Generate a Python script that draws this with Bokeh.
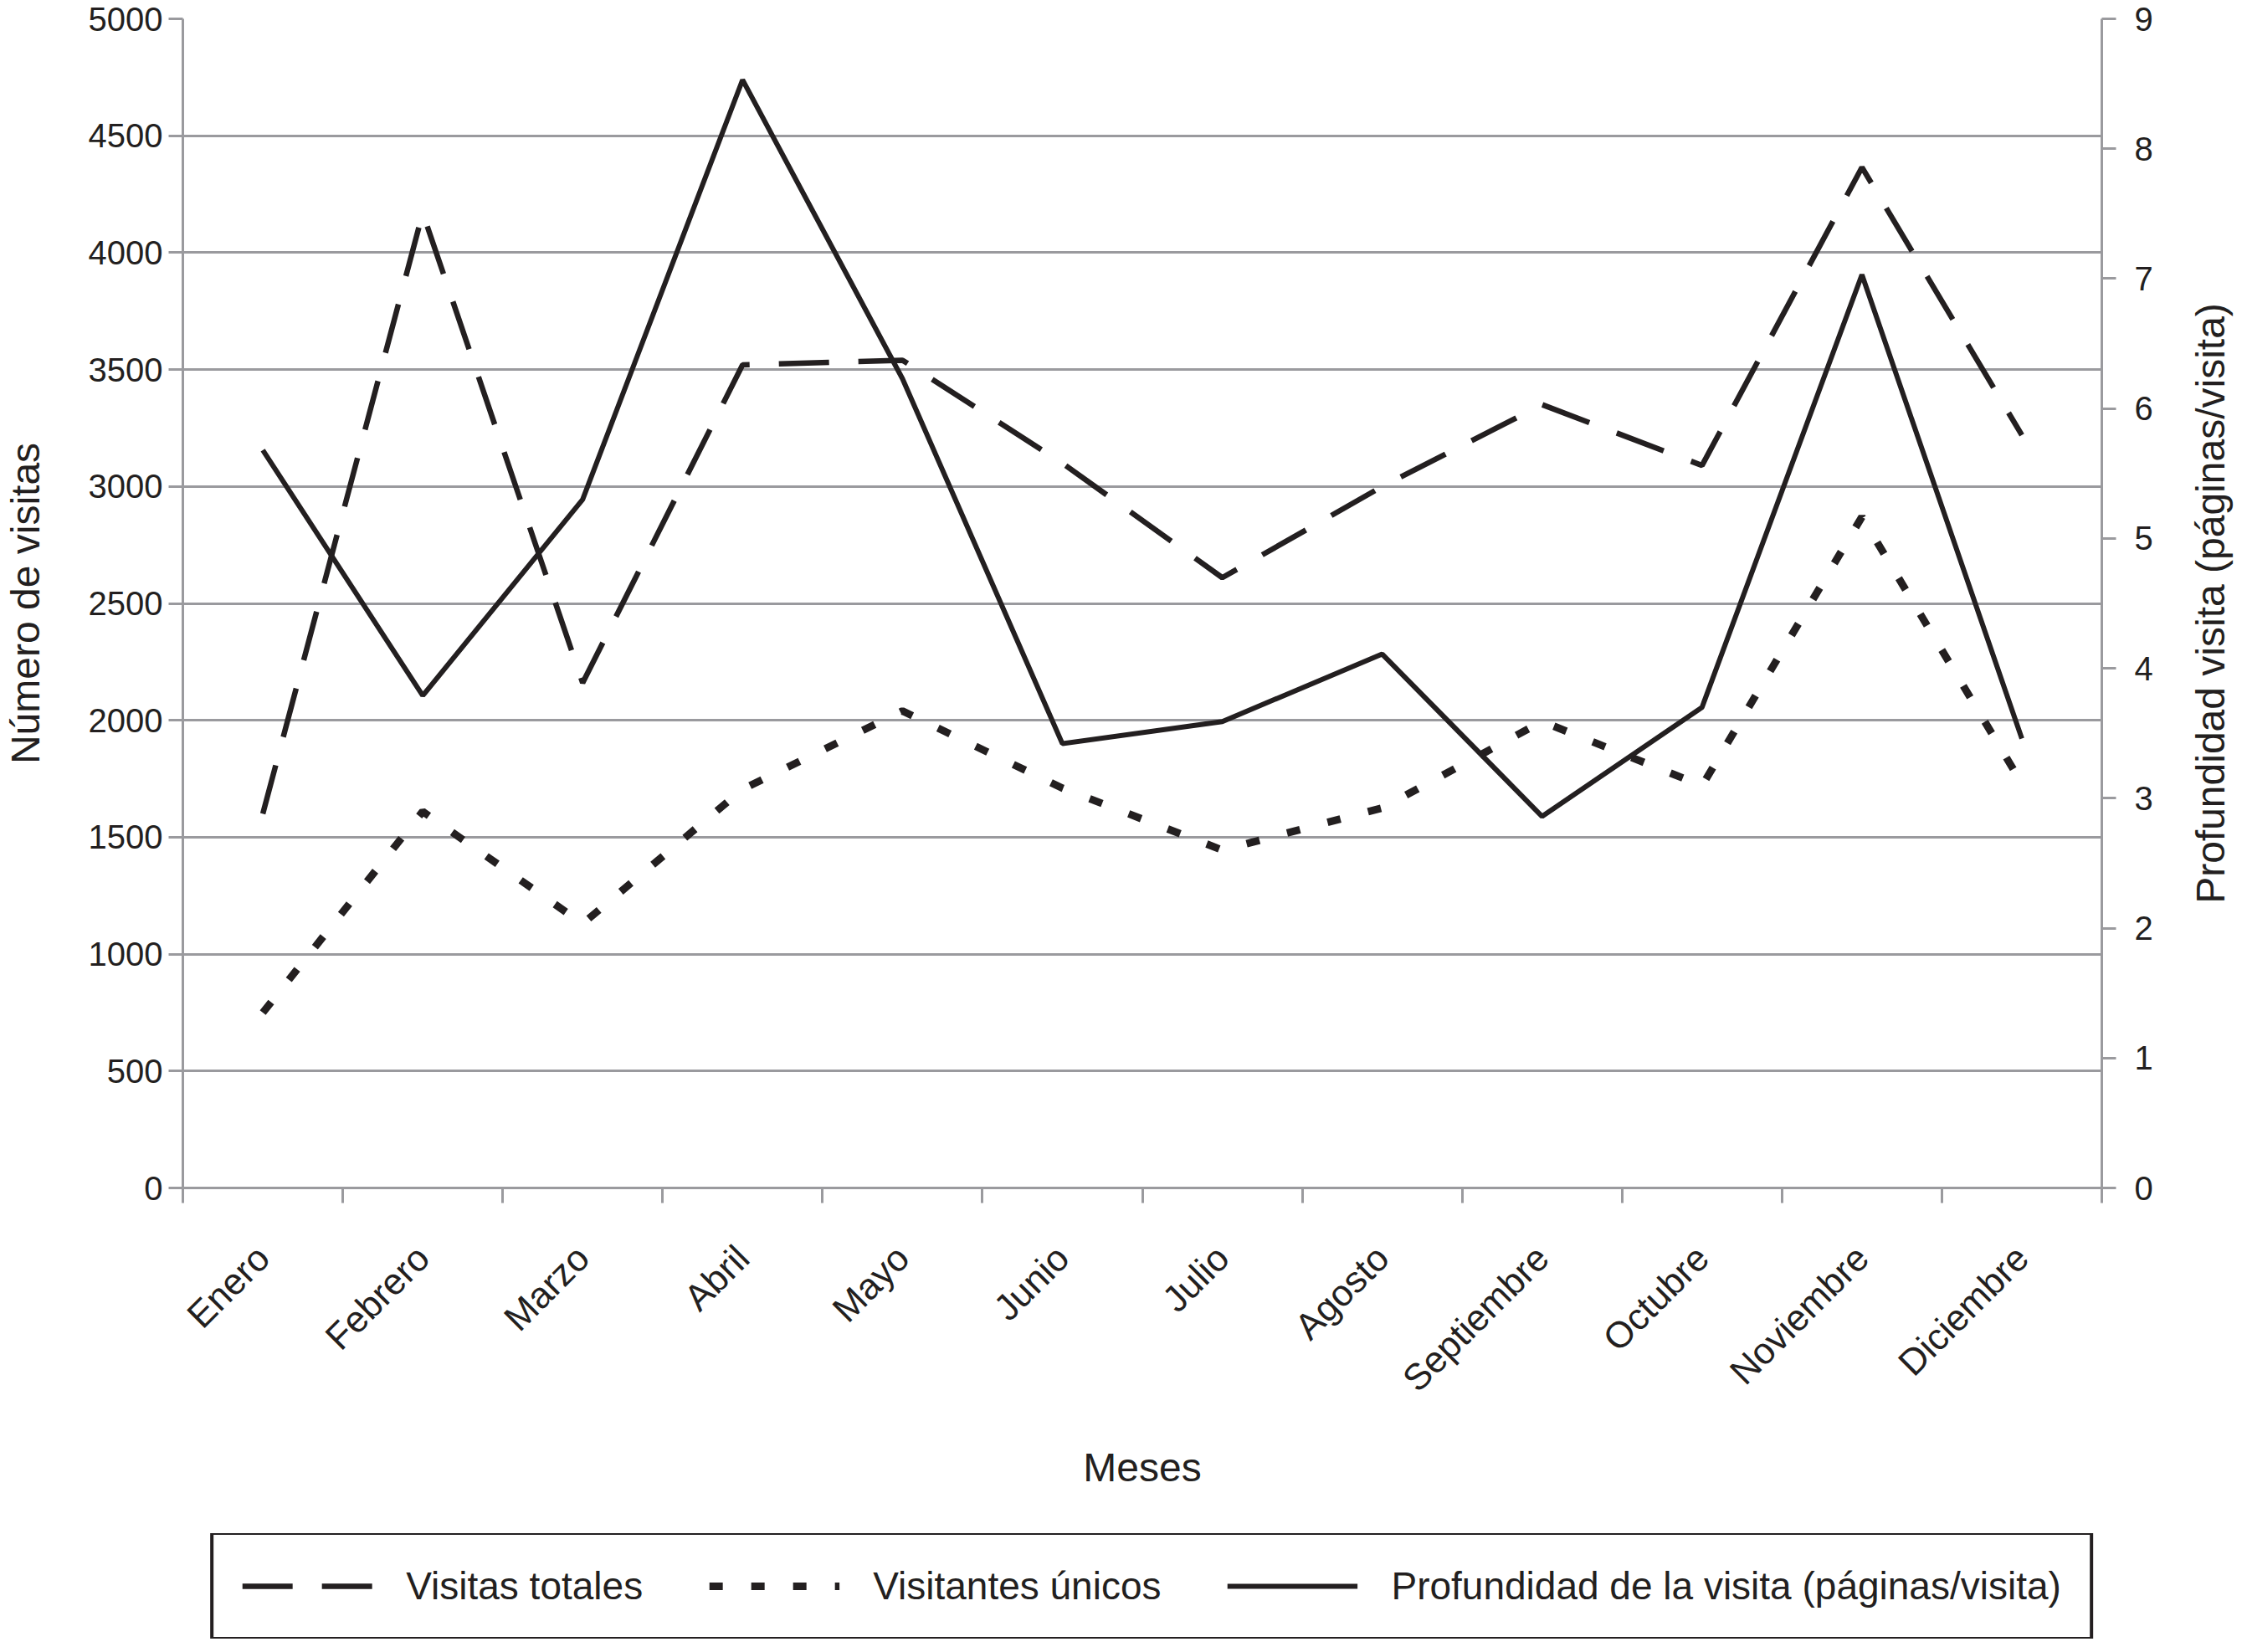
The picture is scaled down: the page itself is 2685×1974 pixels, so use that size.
import math
from bokeh.plotting import figure
from bokeh.layouts import column, row
from bokeh.models import (Range1d, LinearAxis, FixedTicker, Legend, LegendItem, Label)
from bokeh.embed import file_html
from bokeh.resources import INLINE

meses = ["Enero", "Febrero", "Marzo", "Abril", "Mayo", "Junio", "Julio",
         "Agosto", "Septiembre", "Octubre", "Noviembre", "Diciembre"]
visitas_totales = [1600, 4170, 2160, 3520, 3540, 3100, 2610, 3000, 3350, 3090, 4365, 3220]
visitantes_unicos = [750, 1610, 1130, 1705, 2040, 1710, 1445, 1625, 1995, 1720, 2870, 1730]
profundidad = [5.68, 3.79, 5.30, 8.53, 6.23, 3.42, 3.59, 4.11, 2.86, 3.70, 7.03, 3.46]
ticks_izq = [0, 500, 1000, 1500, 2000, 2500, 3000, 3500, 4000, 4500, 5000]
ticks_der = [0, 1, 2, 3, 4, 5, 6, 7, 8, 9]

FONT = "Liberation Sans"
INK = "#231f20"
GREY = "#9a9a9e"

n = len(meses)
xc = [i + 0.5 for i in range(n)]
bounds = list(range(n + 1))

# main figure geometry
W, H = 2609, 1832
ML, MR, MT, MB = 212, 98, 22, 413
TW = 60          # strip for right axis title
LH = 126         # legend strip height

p = figure(width=W, height=H, output_backend="svg", toolbar_location=None,
           x_range=Range1d(0, n), y_range=Range1d(0, 5000),
           min_border_left=ML, min_border_right=MR, min_border_top=MT,
           min_border_bottom=MB)
p.outline_line_color = None
p.background_fill_color = "white"
p.border_fill_color = "white"
p.extra_y_ranges = {"prof": Range1d(0, 9)}

# x axis
xa = p.xaxis[0]
xa.ticker = FixedTicker(ticks=xc, minor_ticks=bounds)
xa.major_label_overrides = {xc[i]: meses[i] for i in range(n)}
xa.major_tick_out = 0
xa.major_tick_in = 0
xa.major_tick_line_color = None
xa.minor_tick_out = 18
xa.minor_tick_in = 0
xa.minor_tick_line_color = GREY
xa.minor_tick_line_width = 3
xa.axis_line_color = GREY
xa.axis_line_width = 3
xa.major_label_orientation = math.pi / 4
xa.major_label_text_font = FONT
xa.major_label_text_font_size = "44px"
xa.major_label_text_color = INK
xa.major_label_standoff = 58
xa.axis_label = "Meses"
xa.axis_label_text_font = FONT
xa.axis_label_text_font_size = "48px"
xa.axis_label_text_font_style = "normal"
xa.axis_label_text_color = INK
xa.axis_label_standoff = 35

# left axis
ya = p.yaxis[0]
ya.ticker = FixedTicker(ticks=ticks_izq)
ya.major_tick_out = 17
ya.major_tick_in = 0
ya.major_tick_line_color = GREY
ya.major_tick_line_width = 3
ya.minor_tick_line_color = None
ya.axis_line_color = GREY
ya.axis_line_width = 3
ya.major_label_text_font = FONT
ya.major_label_text_font_size = "40px"
ya.major_label_text_color = INK
ya.major_label_standoff = 7
ya.axis_label = "Número de visitas"
ya.axis_label_text_font = FONT
ya.axis_label_text_font_size = "48px"
ya.axis_label_text_font_style = "normal"
ya.axis_label_text_color = INK
ya.axis_label_standoff = 46

# right axis
ra = LinearAxis(y_range_name="prof", ticker=FixedTicker(ticks=ticks_der))
ra.major_tick_out = 17
ra.major_tick_in = 0
ra.major_tick_line_color = GREY
ra.major_tick_line_width = 3
ra.minor_tick_line_color = None
ra.axis_line_color = GREY
ra.axis_line_width = 3
ra.major_label_text_font = FONT
ra.major_label_text_font_size = "40px"
ra.major_label_text_color = INK
ra.major_label_standoff = 22
p.add_layout(ra, "right")

p.xgrid.visible = False
p.ygrid.grid_line_color = GREY
p.ygrid.grid_line_width = 3
p.ygrid.ticker = FixedTicker(ticks=ticks_izq)

STY = [dict(line_color=INK, line_width=6.5, line_dash="60 35"),
       dict(line_color=INK, line_width=9, line_dash="16 34"),
       dict(line_color=INK, line_width=6)]

r1 = p.line(xc, visitas_totales, **STY[0])
r2 = p.line(xc, visitantes_unicos, **STY[1])
r3 = p.line(xc, profundidad, y_range_name="prof", **STY[2])

# strip holding the right axis title (reads bottom to top)
t = figure(width=TW, height=H, output_backend="svg", toolbar_location=None,
           x_range=Range1d(0, TW), y_range=Range1d(0, 1),
           x_axis_location=None, y_axis_location=None, min_border=0)
t.outline_line_color = None
t.xgrid.visible = False
t.ygrid.visible = False
t.add_layout(Label(x=32, y=0.5,
                   text="Profundidad visita (páginas/visita)", angle=math.pi / 2,
                   text_align="center", text_baseline="middle",
                   text_font=FONT, text_font_size="48px", text_color=INK))

# legend strip (proxy lines sit outside its visible range)
lg = figure(width=W + TW, height=LH, output_backend="svg", toolbar_location=None,
            x_range=Range1d(0, n), y_range=Range1d(-2, -1),
            x_axis_location=None, y_axis_location=None, min_border=0,
            min_border_left=83)
lg.outline_line_color = None
lg.xgrid.visible = False
lg.ygrid.visible = False
nombres = ["Visitas totales", "Visitantes únicos", "Profundidad de la visita (páginas/visita)"]
series = [visitas_totales, visitantes_unicos, profundidad]
proxies = [lg.line(xc, s, **st) for s, st in zip(series, STY)]
legend = Legend(items=[LegendItem(label=nm, renderers=[rr]) for nm, rr in zip(nombres, proxies)],
                orientation="horizontal", location="center",
                label_text_font=FONT, label_text_font_size="46px", label_text_color=INK,
                glyph_width=156, glyph_height=50, label_height=50, label_standoff=40,
                spacing=79, padding=34, margin=0,
                border_line_color=INK, border_line_width=4, border_line_alpha=1.0,
                background_fill_color="white", background_fill_alpha=1.0)
lg.add_layout(legend, "center")

layout = column(row(p, t, spacing=0), lg, spacing=0)
open("out.html", "w").write(file_html(layout, INLINE))
